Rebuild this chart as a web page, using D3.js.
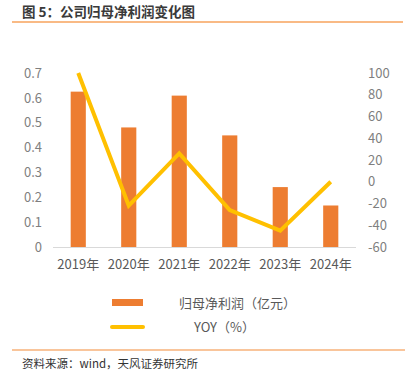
<!DOCTYPE html>
<html><head><meta charset="utf-8">
<script src="https://cdn.jsdelivr.net/npm/d3@7"></script>
<style>body{margin:0;background:#fff;} text{font-family:"Noto Sans CJK SC","Noto Sans",sans-serif;}</style>
</head><body>
<svg id="c" width="409" height="376"></svg>
<script>
const categories = ["2019年","2020年","2021年","2022年","2023年","2024年"];
const profit = [0.625, 0.481, 0.609, 0.449, 0.241, 0.167];
const yoy = [100, -22, 26, -26, -45, 0];
const leftTicks = [0,0.1,0.2,0.3,0.4,0.5,0.6,0.7];
const rightTicks = [-60,-40,-20,0,20,40,60,80,100];

const svg = d3.select("#c");
const W=409,H=376;
svg.append("rect").attr("width",W).attr("height",H).attr("fill","#fff");

// title
svg.append("text").attr("x",22).attr("y",17).attr("font-size",13.5).attr("font-weight","bold")
  .attr("fill","#3a3a3a").text("图 5：公司归母净利润变化图");
svg.append("line").attr("x1",12).attr("x2",403).attr("y1",22).attr("y2",22)
  .attr("stroke","#F7A35C").attr("stroke-width",1.5);

const x = d3.scaleBand().domain(categories).range([53,356]).paddingInner(0.7).paddingOuter(0.35);
const yL = d3.scaleLinear().domain([0,0.7]).range([247,73]);
const yR = d3.scaleLinear().domain([-60,100]).range([247,73]);

// left axis
const gl = svg.append("g").attr("transform","translate(42,0)")
  .call(d3.axisLeft(yL).tickValues(leftTicks).tickSize(0).tickPadding(0).tickFormat(d=>d===0?"0":d3.format(".1f")(d)));
gl.select(".domain").remove();
gl.selectAll("text").attr("font-size",13).attr("fill","#7f7f7f").attr("font-family","Liberation Sans, Arial, sans-serif");

const gr = svg.append("g").attr("transform","translate(368,0)")
  .call(d3.axisRight(yR).tickValues(rightTicks).tickSize(0).tickPadding(0).tickFormat(d=>d<0?"-"+Math.abs(d):d));
gr.select(".domain").remove();
gr.selectAll("text").attr("font-size",13).attr("fill","#7f7f7f").attr("font-family","Liberation Sans, Arial, sans-serif");

// bars
svg.append("g").selectAll("rect").data(profit).join("rect")
  .attr("x",(d,i)=>x(categories[i])).attr("width",x.bandwidth())
  .attr("y",d=>yL(d)).attr("height",d=>yL(0)-yL(d)).attr("fill","#ED7D31");

// x axis
const gx = svg.append("g").attr("transform","translate(0,247)")
  .call(d3.axisBottom(x).tickSize(0).tickPadding(13));
gx.select(".domain").attr("stroke","#d9d9d9").attr("d","M53,0.5H356");
gx.selectAll("text").attr("font-size",13).attr("fill","#595959");

// line
const line = d3.line().x((d,i)=>x(categories[i])+x.bandwidth()/2).y(d=>yR(d));
svg.append("path").datum(yoy).attr("d",line).attr("fill","none")
  .attr("stroke","#FFC000").attr("stroke-width",4).attr("stroke-linejoin","miter");

// legend
svg.append("rect").attr("x",112).attr("y",299).attr("width",31).attr("height",7).attr("fill","#ED7D31");
svg.append("text").attr("x",179).attr("y",308).attr("font-size",13).attr("fill","#595959").text("归母净利润（亿元）");
svg.append("line").attr("x1",112).attr("x2",143).attr("y1",327).attr("y2",327)
  .attr("stroke","#FFC000").attr("stroke-width",4).attr("stroke-linecap","round");
svg.append("text").attr("x",194).attr("y",332).attr("font-size",13).attr("fill","#595959").text("YOY（%）");

// footer
svg.append("line").attr("x1",12).attr("x2",405).attr("y1",350).attr("y2",350)
  .attr("stroke","#F7B27A").attr("stroke-width",1.5);
svg.append("text").attr("x",22).attr("y",368).attr("font-size",11.5).attr("fill","#333").text("资料来源：wind，天风证券研究所");
</script>
</body></html>
